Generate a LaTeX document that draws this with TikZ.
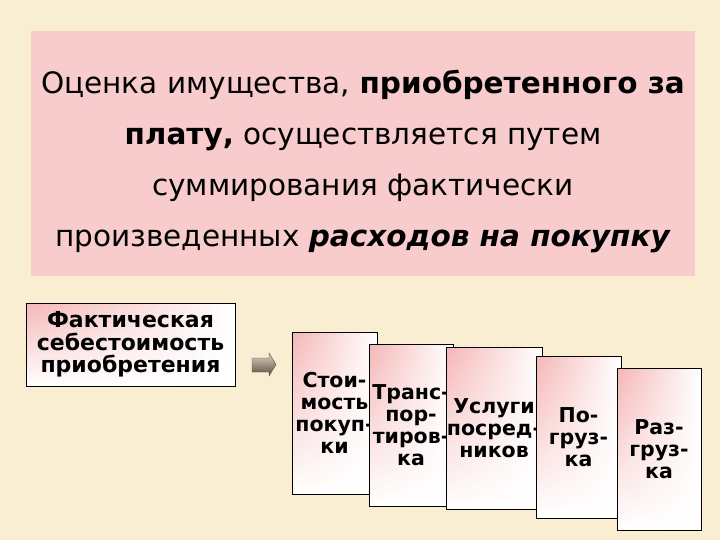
\documentclass[tikz,border=0pt]{standalone}
\usepackage{fontspec}
\setmainfont{DejaVu Sans}
\usetikzlibrary{shadings}

\definecolor{fondo}{RGB}{250,238,210}
\definecolor{rosa}{RGB}{248,204,204}
\definecolor{rosacaja}{RGB}{245,182,182}
\definecolor{flechaclara}{RGB}{222,212,198}
\definecolor{flechaoscura}{RGB}{92,76,62}

\begin{document}
\begin{tikzpicture}[x=1pt,y=-1pt,
    caja/.style={draw=black, line width=0.8pt, shade, upper left=rosacaja,
      upper right=white, lower left=white, lower right=white,
      align=center, inner sep=0pt, minimum height=162pt,
      font=\bfseries\fontsize{20.5}{22}\selectfont}]
			% Dibujar el fondo
			\fill[fondo] (0,0) rectangle (720,540);
			\useasboundingbox (0,0) rectangle (720,540);

			% Dibujar el texto principal
			\fill[rosa] (31,31) rectangle (695,276);
			\node (texto) at (363,161.5) [align=center, font=\fontsize{29.5}{51}\selectfont]
				{Оценка имущества, \textbf{приобретенного за}\\
				 \textbf{плату,} осуществляется путем\\
				 суммирования фактически\\
				 произведенных \textbf{\textit{расходов на покупку}}};

			% Dibujar la caja izquierda
			\node[caja, minimum width=209pt, minimum height=83pt, font=\bfseries\fontsize{22}{22.5}\selectfont] (fact) at (130.5,344.5)
				{Фактическая\\себестоимость\\приобретения};

			% Dibujar la flecha
			\shade[draw=gray!60!black, line width=0.4pt, top color=flechaclara, bottom color=flechaoscura]
				(252,358) -- (269,358) -- (269,353) -- (276,364.5) -- (269,376) -- (269,372) -- (252,372) -- cycle;

			% Dibujar las cajas de gastos
			\node[caja, minimum width=85pt] (costo) at (334.5,413) {Стои-\\мость\\покуп-\\ки};
			\node[caja, minimum width=84pt] (transp) at (411,425) {Транс-\\пор-\\тиров-\\ка};
			\node[caja, minimum width=96pt] (serv) at (494,428) {Услуги\\посред-\\ников};
			\node[caja, minimum width=85pt] (carga) at (578.5,437) {По-\\груз-\\ка};
			\node[caja, minimum width=84pt] (descarga) at (659,449.5) {Раз-\\груз-\\ка};
		\end{tikzpicture}
\end{document}
